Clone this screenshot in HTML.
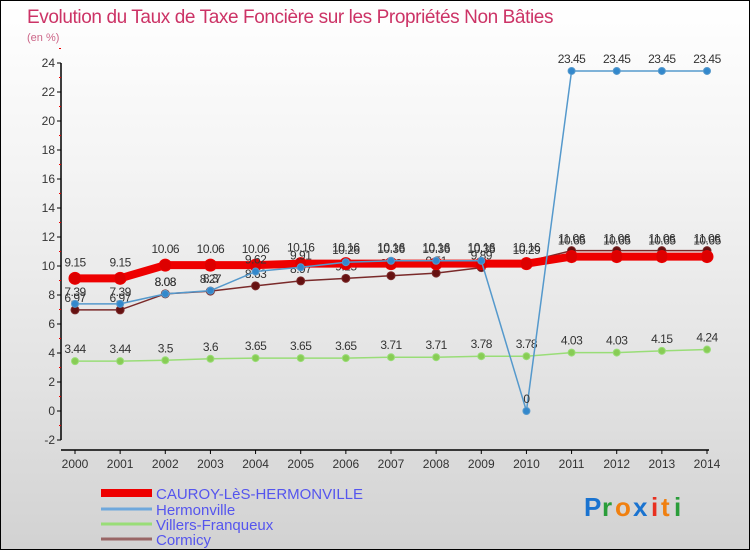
<!DOCTYPE html>
<html><head><meta charset="utf-8"><style>
body{margin:0;width:750px;height:550px;overflow:hidden;font-family:"Liberation Sans",sans-serif}
#wrap{position:relative;width:748px;height:548px;border:1px solid #000;background:linear-gradient(#fff,#f4f4f4 30%,#e2e2e2 70%,#d2d2d2)}
</style></head><body>
<div id="wrap">
<svg id="svg" width="748" height="548" xmlns="http://www.w3.org/2000/svg">
<text x="26" y="22" font-size="19" letter-spacing="-0.4" fill="#cc3366">Evolution du Taux de Taxe Foncière sur les Propriétés Non Bâties</text>
<text x="26" y="40" font-size="11" fill="#cc6688">(en %)</text>
<g id="axes"></g><g id="series"></g>
<g>
<line x1="100" y1="492" x2="151" y2="492" stroke="#e00" stroke-width="8"/>
<text x="155" y="498" font-size="15" fill="#5555ee">CAUROY-LèS-HERMONVILLE</text>
<line x1="100" y1="508" x2="151" y2="508" stroke="#6fa8dc" stroke-width="3"/>
<text x="155" y="514" font-size="15" fill="#5555ee">Hermonville</text>
<line x1="100" y1="523" x2="151" y2="523" stroke="#99dd77" stroke-width="3"/>
<text x="155" y="529" font-size="15" fill="#5555ee">Villers-Franqueux</text>
<line x1="100" y1="538" x2="151" y2="538" stroke="#996666" stroke-width="3"/>
<text x="155" y="544" font-size="15" fill="#5555ee">Cormicy</text>
</g>
<g font-size="26" font-weight="bold">
<text x="583" y="515" fill="#1a73d0">P</text><text x="601" y="515" fill="#2a9d3a">r</text><text x="614" y="515" fill="#f08010">o</text><text x="632" y="515" fill="#1a73d0">x</text><text x="650" y="515" fill="#e83020">i</text><text x="660" y="515" fill="#f08010">t</text><text x="673" y="515" fill="#2a9d3a">i</text>
</g>
</svg></div>
<script>
const years=[2000,2001,2002,2003,2004,2005,2006,2007,2008,2009,2010,2011,2012,2013,2014];
const yTicks=[-2,0,2,4,6,8,10,12,14,16,18,20,22,24];
const cauroy=[9.15,9.15,10.06,10.06,10.06,10.16,10.16,10.16,10.16,10.16,10.16,10.65,10.65,10.65,10.65];
const hermonville=[7.39,7.39,8.08,8.3,9.62,9.91,10.26,10.36,10.36,10.36,0,23.45,23.45,23.45,23.45];
const villers=[3.44,3.44,3.5,3.6,3.65,3.65,3.65,3.71,3.71,3.78,3.78,4.03,4.03,4.15,4.24];
const cormicy=[6.97,6.97,8.08,8.27,8.63,8.97,9.15,9.33,9.51,9.89,10.29,11.06,11.06,11.06,11.06];
const NS="http://www.w3.org/2000/svg";
const X=i=>74+i*(632/14);
const Y=v=>410-v*14.5;
function mk(t,a,p){const e=document.createElementNS(NS,t);for(const k in a)e.setAttribute(k,a[k]);p.appendChild(e);return e;}
const ax=document.getElementById('axes'),sg=document.getElementById('series');
const ya=mk('line',{x1:60,y1:Y(24),x2:60,y2:Y(-2),stroke:'#000','stroke-width':1.5},ax);


const xa=mk('line',{x1:60,y1:449,x2:708,y2:449,stroke:'#000','stroke-width':1.5},ax);


yTicks.forEach(v=>{
 mk('line',{x1:56,y1:Y(v),x2:60,y2:Y(v),stroke:'#000'},ax);
 mk('line',{x1:58,y1:Y(v+1),x2:60,y2:Y(v+1),stroke:'#e00'},ax);
 const t=mk('text',{x:54,y:Y(v)+4,'font-size':12,fill:'#333','text-anchor':'end'},ax);t.textContent=v;
 
 
});
years.forEach((y,i)=>{
 mk('line',{x1:X(i),y1:449,x2:X(i),y2:453,stroke:'#000'},ax);
 const t=mk('text',{x:X(i),y:467,'font-size':12,fill:'#333','text-anchor':'middle'},ax);t.textContent=y;
 
 
});
function series(data,name,color,w,r,dot,dy){
 const g=mk('g',{},sg);
 
 
 mk('polyline',{points:data.map((v,i)=>X(i)+','+Y(v)).join(' '),fill:'none',stroke:color,'stroke-width':w},g);
 data.forEach((v,i)=>{
  const c=mk('circle',{cx:X(i),cy:Y(v),r:r,fill:dot,stroke:color,'stroke-width':1},g);
  
  
  const t=mk('text',{x:X(i),y:Y(v)+dy,'font-size':12,fill:'#333','text-anchor':'middle','letter-spacing':'-0.5'},g);t.textContent=v;
  
  
 });
}
series(villers,'villers','#99dd77',1.5,3.5,'#88cc55',-8);
series(cormicy,'cormicy','#7a2a2a',1.5,4,'#661111',-8);
series(cauroy,'cauroy','#e00',8,6,'#d00',-12);
series(hermonville,'hermonville','#5599cc',1.5,3.5,'#3388cc',-8);
</script>
</body></html>
